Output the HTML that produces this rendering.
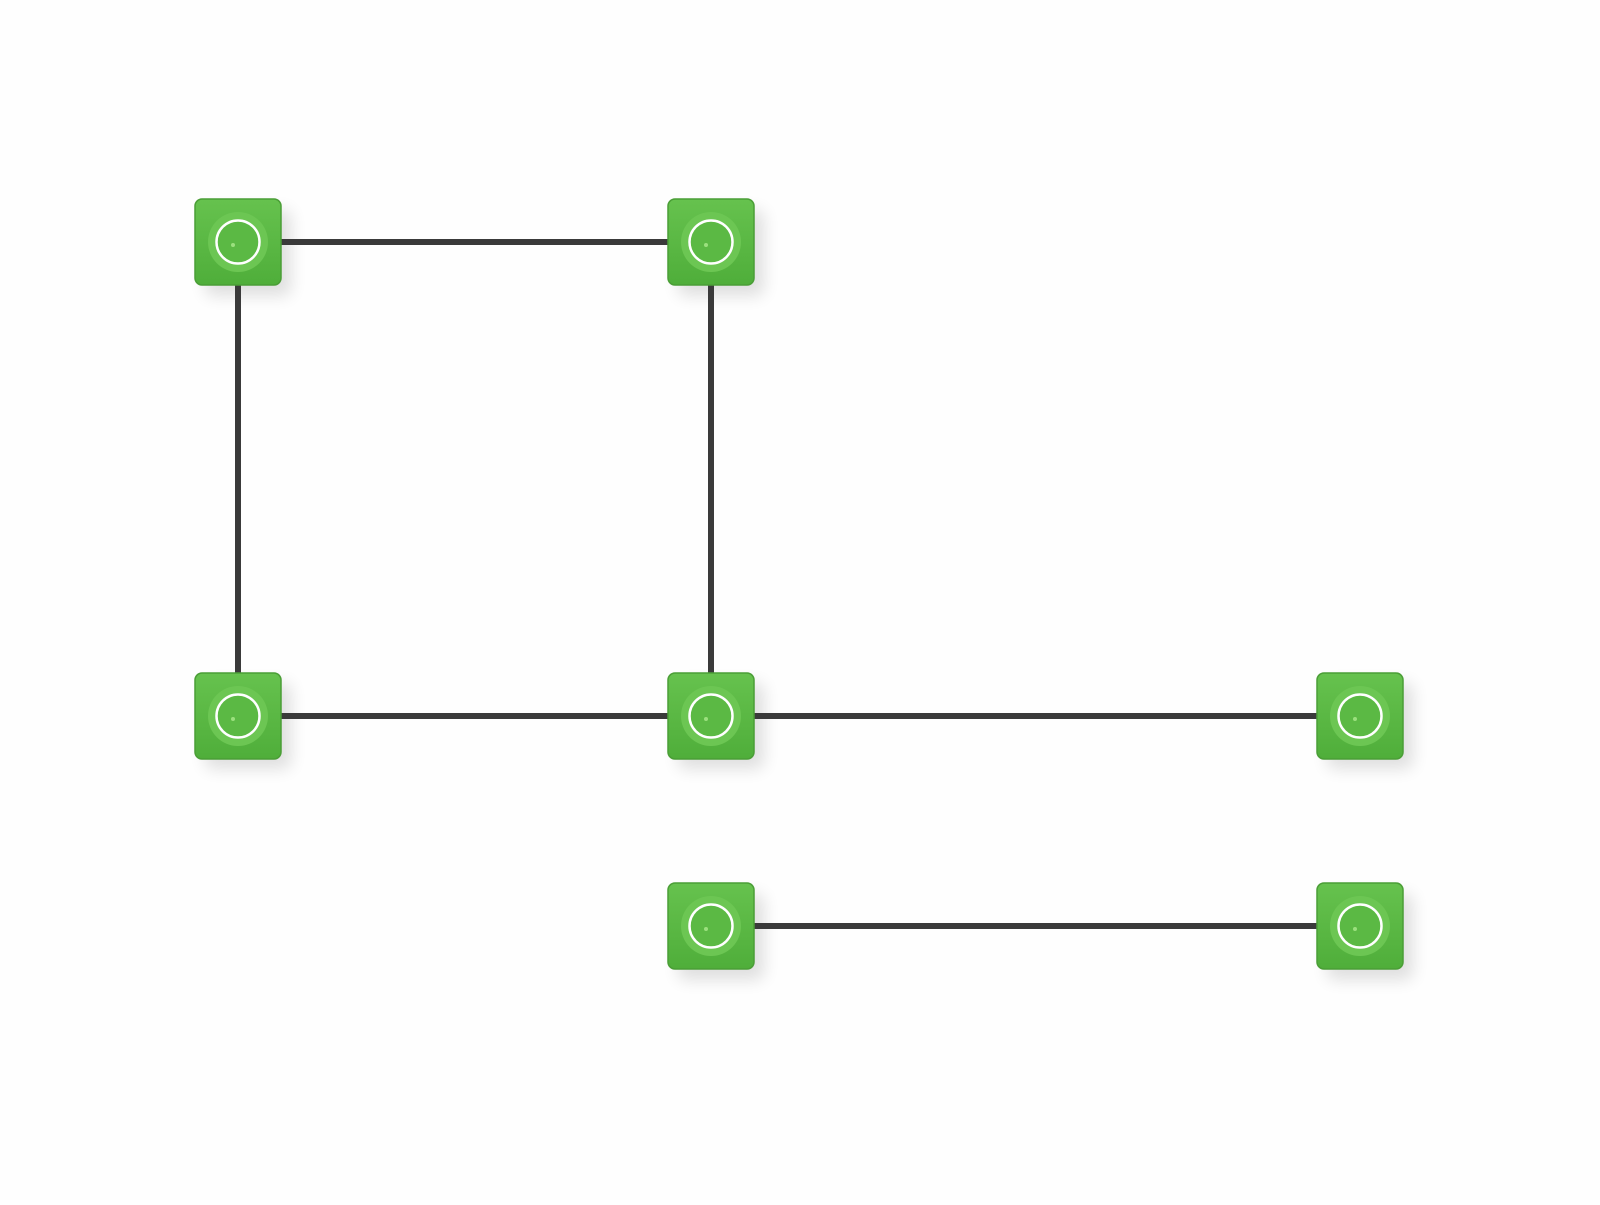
<!DOCTYPE html>
<html><head><style>
html,body{margin:0;padding:0;background:#fff;}
</style></head><body>
<svg width="1600" height="1200" viewBox="0 0 1600 1200" xmlns="http://www.w3.org/2000/svg">
<defs>
<filter id="sh" x="-50%" y="-50%" width="200%" height="200%"><feGaussianBlur stdDeviation="8"/></filter>
<linearGradient id="g" x1="0" y1="0" x2="0" y2="1"><stop offset="0" stop-color="#66c24e"/><stop offset="1" stop-color="#4fae3a"/></linearGradient>
<g id="n">
<rect x="-43" y="-43" width="86" height="86" rx="7" fill="url(#g)" stroke="#4a9e36" stroke-width="1.5"/>
<circle r="30" fill="#6cc653"/>
<circle r="21.5" fill="#5bb944" stroke="#fff" stroke-width="2.5"/>
<circle cx="-5" cy="3" r="2" fill="#9be07e"/>
</g>
</defs>
<rect width="1600" height="1200" fill="#fefefe"/>
<g fill="#000" opacity="0.12" filter="url(#sh)">
<rect x="205" y="210" width="86" height="86" rx="8"/>
<rect x="678" y="210" width="86" height="86" rx="8"/>
<rect x="205" y="683" width="86" height="86" rx="8"/>
<rect x="678" y="683" width="86" height="86" rx="8"/>
<rect x="1327" y="683" width="86" height="86" rx="8"/>
<rect x="678" y="894" width="86" height="86" rx="8"/>
<rect x="1327" y="894" width="86" height="86" rx="8"/>
</g>
<g stroke="#3a3a3a" stroke-width="6" stroke-linecap="round">
<line x1="238" y1="242" x2="711" y2="242"/>
<line x1="238" y1="242" x2="238" y2="716"/>
<line x1="711" y1="242" x2="711" y2="716"/>
<line x1="238" y1="716" x2="1360" y2="716"/>
<line x1="711" y1="926" x2="1360" y2="926"/>
</g>
<use href="#n" x="238" y="242"/>
<use href="#n" x="711" y="242"/>
<use href="#n" x="238" y="716"/>
<use href="#n" x="711" y="716"/>
<use href="#n" x="1360" y="716"/>
<use href="#n" x="711" y="926"/>
<use href="#n" x="1360" y="926"/>
</svg>
</body></html>
